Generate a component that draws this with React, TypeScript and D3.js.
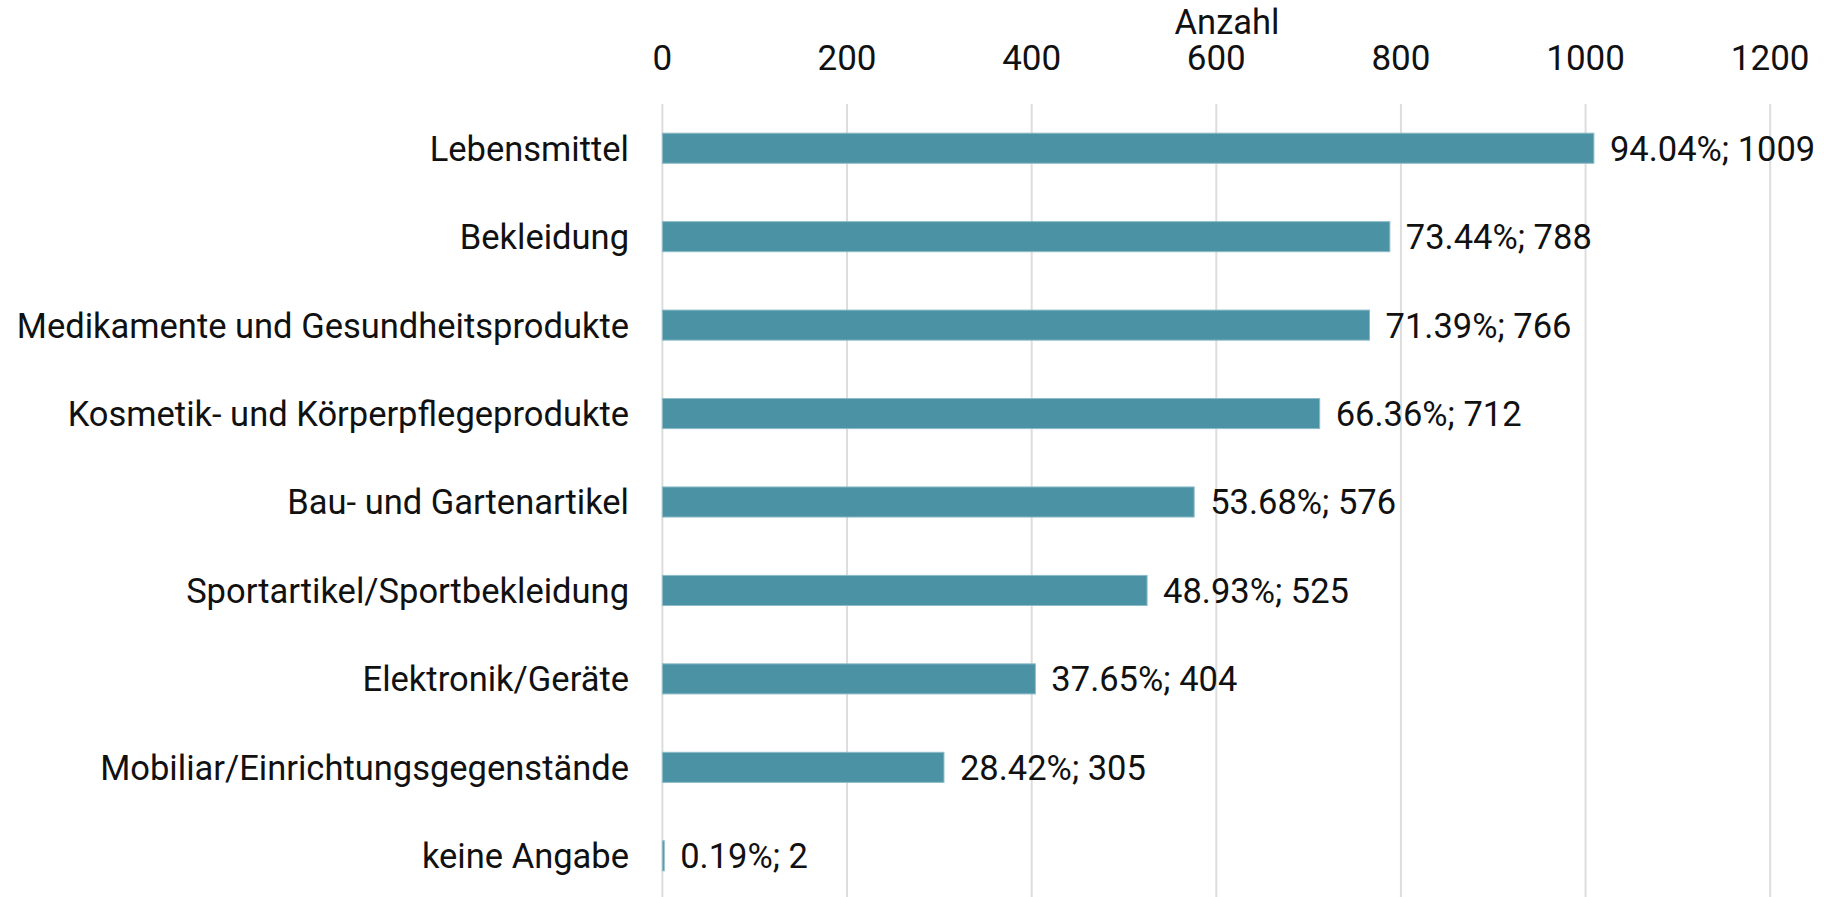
import React from "react";
import * as d3 from "d3";

const categories = [
  "Lebensmittel",
  "Bekleidung",
  "Medikamente und Gesundheitsprodukte",
  "Kosmetik- und Körperpflegeprodukte",
  "Bau- und Gartenartikel",
  "Sportartikel/Sportbekleidung",
  "Elektronik/Geräte",
  "Mobiliar/Einrichtungsgegenstände",
  "keine Angabe",
];
const counts = [1009, 788, 766, 712, 576, 525, 404, 305, 2];
const percents = ["94.04%", "73.44%", "71.39%", "66.36%", "53.68%", "48.93%", "37.65%", "28.42%", "0.19%"];
const ticks = [0, 200, 400, 600, 800, 1000, 1200];
const axisTitle = "Anzahl";

const W = 1824;
const H = 897;
const FONT = "Roboto, 'Noto Sans', sans-serif";
const FS = 34.5;
const FS_TICK = 35;

export default function App() {
  const x = d3.scaleLinear().domain([0, 1200]).range([662.4, 1770.2]);
  const y = d3
    .scaleBand<string>()
    .domain(categories)
    .range([104, 900])
    .paddingInner(0.66)
    .paddingOuter(0.33);
  const bw = y.bandwidth();
  return (
    <svg
      width={W}
      height={H}
      style={{ position: "absolute", left: 0, top: 0, background: "#fff" }}
      fontFamily={FONT}
    >
      <rect x={0} y={0} width={W} height={H} fill="#fff" />
      {ticks.map((t) => (
        <g key={t}>
          <line x1={x(t)} x2={x(t)} y1={104} y2={H} stroke="#dddddd" strokeWidth={2} />
          <text x={x(t)} y={70} textAnchor="middle" fontSize={FS_TICK} fill="#111">
            {t}
          </text>
        </g>
      ))}
      <text x={1227} y={34} textAnchor="middle" fontSize={FS} fill="#111">
        {axisTitle}
      </text>
      {categories.map((c, i) => {
        const yy = y(c)!;
        const xe = x(counts[i]);
        return (
          <g key={c}>
            <rect
              x={x(0)}
              y={yy}
              width={xe - x(0)}
              height={bw}
              fill="#4a92a4"
              stroke="#8dbbc7"
              strokeWidth={1}
            />
            <text
              x={629}
              y={yy + bw / 2}
              dy="0.36em"
              textAnchor="end"
              fontSize={FS}
              fill="#111"
            >
              {c}
            </text>
            <text x={xe + 16} y={yy + bw / 2} dy="0.36em" fontSize={FS} fill="#111">
              {`${percents[i]}; ${counts[i]}`}
            </text>
          </g>
        );
      })}
    </svg>
  );
}
